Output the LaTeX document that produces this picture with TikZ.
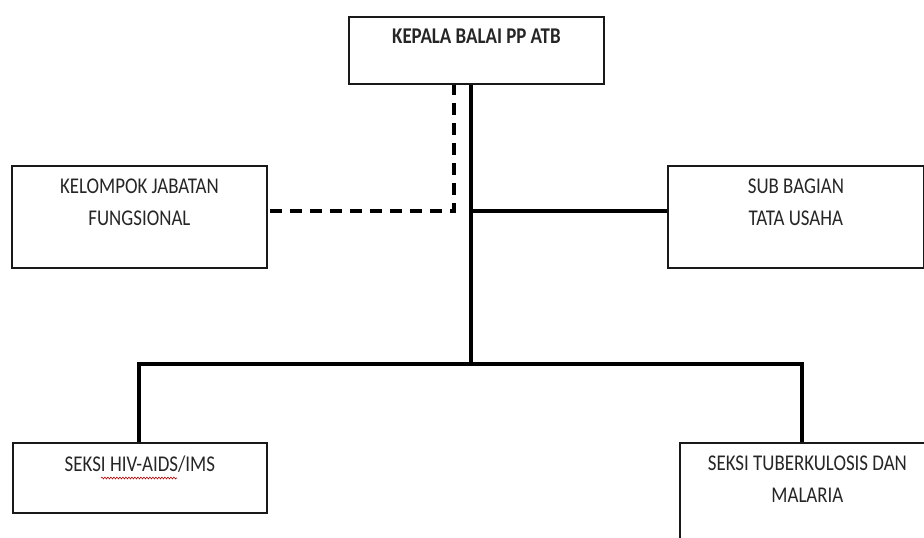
\documentclass[tikz,border=0pt]{standalone}
\usepackage{fontspec}
\setmainfont[FakeStretch=0.84]{Carlito}
\usetikzlibrary{decorations.pathmorphing}

% Box content: fixed-height parbox with the text lines set from the top
\newcommand{\orgbox}[3]{\parbox[c][#2][t]{#1}{\centering\vspace{12.5pt}#3}}

\begin{document}
\begin{tikzpicture}[x=1pt,y=-1pt,
  unitbox/.style={draw=black!90, line width=1.8pt, rectangle, inner sep=0pt,
                  fill=white, text=black!85, font=\fontsize{22.5}{32}\selectfont},
  conn/.style={line width=3.2pt, line cap=rect},
  dashconn/.style={line width=3.2pt, dash pattern=on 12pt off 8pt}]

  \useasboundingbox (0,0) rectangle (924,538);
  \clip (0,0) rectangle (924,538);

  % junction points on the connectors
  \coordinate (spine) at (471,364);
  \coordinate (tee)   at (471,211);
  \coordinate (dcorner) at (454,211);
  \coordinate (tbdrop) at (802,442);

  % connectors
  \draw[conn] (471,83) -- (spine);
  \draw[conn] (tee) -- (667,211);
  \draw[conn] (139,442) |- (spine) -| (tbdrop);
  \draw[dashconn] (454,83) -- (dcorner) -- (266,211);

  % units
  \node[unitbox, anchor=north west] (kepala) at (348,16)
    {\orgbox{255pt}{67pt}{\textbf{KEPALA BALAI PP ATB}}};
  \node[unitbox, anchor=north west] (kjf) at (11,165)
    {\orgbox{255pt}{102pt}{KELOMPOK JABATAN\\FUNGSIONAL}};
  \node[unitbox, anchor=north west] (sub) at (667,165)
    {\orgbox{256pt}{102pt}{SUB BAGIAN\\TATA USAHA}};
  \node[unitbox, anchor=north west] (hiv) at (12,442)
    {\orgbox{254pt}{70pt}{SEKSI HIV-AIDS/IMS}};
  \node[unitbox, anchor=north west] (tb) at (679,442)
    {\orgbox{255pt}{106pt}{SEKSI TUBERKULOSIS DAN\\MALARIA}};

  % spell-check underline beneath HIV-AIDS
  \draw[red!75!black, line width=0.6pt,
        decorate, decoration={snake, segment length=3pt, amplitude=0.9pt}]
    (101,478) -- (177,478);
\end{tikzpicture}
\end{document}
